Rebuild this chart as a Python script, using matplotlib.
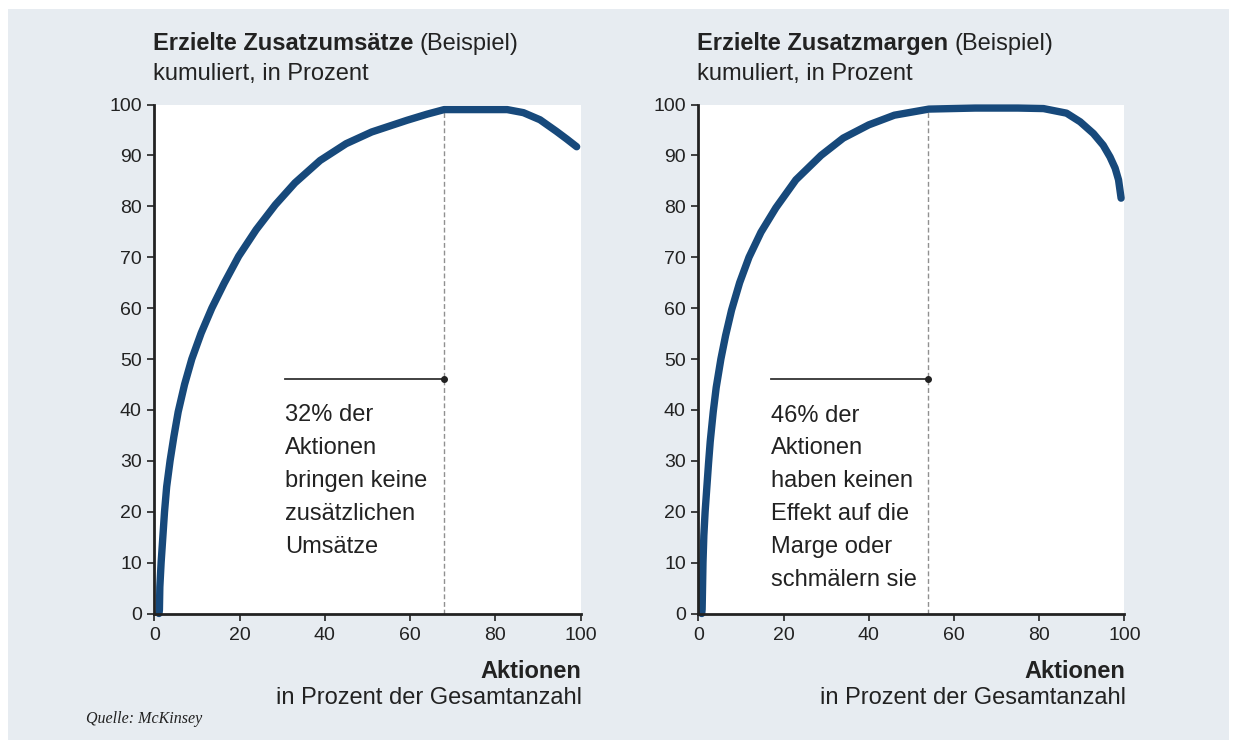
from matplotlib import pyplot as plt
from matplotlib.patches import Rectangle

plt.rcParams['font.family'] = ['Liberation Sans', 'DejaVu Sans']

# Zusatzumsätze, kumuliert in Prozent
x_umsatz = [1.1, 1.2, 1.3, 1.6, 2.4, 2.9, 3.7, 4.6, 5.6, 7.1, 8.8, 11.0, 13.5, 16.4,
            19.8, 23.9, 28.4, 33.0, 38.9, 45.0, 51.0, 59.3, 64.0, 68.0, 75.0, 82.8,
            86.6, 90.5, 94.4, 96.8, 99.1]
y_umsatz = [0, 0.7, 5.2, 10, 20, 24.9, 30, 34.8, 39.6, 45.0, 50, 55.1, 60, 64.9,
            70.2, 75.4, 80.3, 84.6, 89.0, 92.3, 94.6, 96.9, 98.1, 99.0, 99.0, 99.0,
            98.4, 97.0, 94.7, 93.2, 91.7]

# Zusatzmargen, kumuliert in Prozent
x_marge = [0.8, 0.9, 1.1, 1.3, 1.6, 2.4, 2.8, 3.5, 4.2, 5.3, 6.4, 7.8, 9.7, 11.9,
           14.7, 18.2, 22.9, 28.8, 34.0, 40.0, 46.0, 54.1, 65.0, 75.0, 81.0, 86.4,
           89.6, 92.7, 95.0, 96.6, 97.8, 98.6, 99.2]
y_marge = [0, 0.8, 10, 15.3, 20, 29.5, 33.8, 39.6, 44.4, 50, 54.6, 59.6, 65, 70,
           74.9, 79.7, 85.2, 90.0, 93.4, 96.0, 97.9, 99.1, 99.3, 99.3, 99.2, 98.3,
           96.6, 94.3, 92.0, 89.7, 87.5, 85.2, 81.6]

titles = ['Erzielte Zusatzumsätze', 'Erzielte Zusatzmargen']
schwelle = [68, 54]       # Anteil Aktionen ohne Effekt endet hier
anno_start = [30.7, 17]
anno_y = 46
anno_text = ['32% der\nAktionen\nbringen keine\nzusätzlichen\nUmsätze',
             '46% der\nAktionen\nhaben keinen\nEffekt auf die\nMarge oder\nschmälern sie']
anno_last = [11.9, 5.4]   # Grundlinie der letzten Zeile

W, H = 1233, 740
fig = plt.figure(figsize=(W / 100, H / 100), dpi=100)
fig.patch.set_facecolor('white')
fig.patches.append(Rectangle((8 / W, 0), (1229 - 8) / W, 1 - 9 / H,
                             transform=fig.transFigure, facecolor='#e7ecf1',
                             edgecolor='none', zorder=-10))

blue = '#17497b'
dark = '#222222'
ax_left = [154.3, 698.3]
ax_w = 426.2
ax_top, ax_bot = 104.5, 613.5

daten = [(x_umsatz, y_umsatz), (x_marge, y_marge)]
r = fig.canvas.get_renderer()

for i in range(2):
    ax = fig.add_axes([ax_left[i] / W, 1 - ax_bot / H, ax_w / W, (ax_bot - ax_top) / H])
    ax.set_facecolor('white')
    xs, ys = daten[i]
    ax.plot(xs, ys, color=blue, lw=5.3, solid_capstyle='round', solid_joinstyle='round',
            clip_on=False, zorder=3)
    ax.plot([schwelle[i], schwelle[i]], [0, 99], color='#909090', lw=1.0,
            linestyle=(0, (3.5, 2)), zorder=2)
    ax.plot([anno_start[i], schwelle[i]], [anno_y, anno_y], color='#333333', lw=1.3, zorder=4)
    ax.plot([schwelle[i]], [anno_y], 'o', color='#222222', ms=4, zorder=5)
    ax.text(anno_start[i], anno_last[i], anno_text[i], fontsize=17, color=dark,
            va='baseline', ha='left', linespacing=1.64)

    ax.set_xlim(0, 100)
    ax.set_ylim(0, 100)
    ax.set_xticks(range(0, 101, 20))
    ax.set_yticks(range(0, 101, 10))
    for s in ['top', 'right']:
        ax.spines[s].set_visible(False)
    for s in ['left', 'bottom']:
        ax.spines[s].set_linewidth(2.0)
        ax.spines[s].set_color(dark)
        ax.spines[s].set_zorder(6)
    ax.tick_params(axis='both', direction='out', length=5, width=1.2, color=dark,
                   labelsize=14, labelcolor=dark)
    ax.tick_params(axis='x', pad=5)
    ax.tick_params(axis='y', pad=4)

    # Titel: fett + normal
    tx = (ax_left[i] - 1) / W
    t = fig.text(tx, 1 - 50 / H, titles[i], fontsize=17, fontweight='bold', color=dark,
                 va='baseline', ha='left')
    bb = t.get_window_extent(renderer=r)
    fig.text((bb.x1 + 6) / W, 1 - 50 / H, '(Beispiel)', fontsize=17, color=dark,
             va='baseline', ha='left')
    fig.text(tx, 1 - 80 / H, 'kumuliert, in Prozent', fontsize=17, color=dark,
             va='baseline', ha='left')

    # Achsenbeschriftung x
    xr = (ax_left[i] + ax_w + 1) / W
    fig.text(xr, 1 - 678 / H, 'Aktionen', fontsize=17, fontweight='bold', color=dark,
             va='baseline', ha='right')
    fig.text(xr, 1 - 704 / H, 'in Prozent der Gesamtanzahl', fontsize=17, color=dark,
             va='baseline', ha='right')

fig.text(86 / W, 1 - 723 / H, 'Quelle: McKinsey', fontsize=11.5, style='italic',
         family='Liberation Serif', color=dark, va='baseline', ha='left')

plt.savefig('out.png', dpi=100, facecolor=fig.get_facecolor())
